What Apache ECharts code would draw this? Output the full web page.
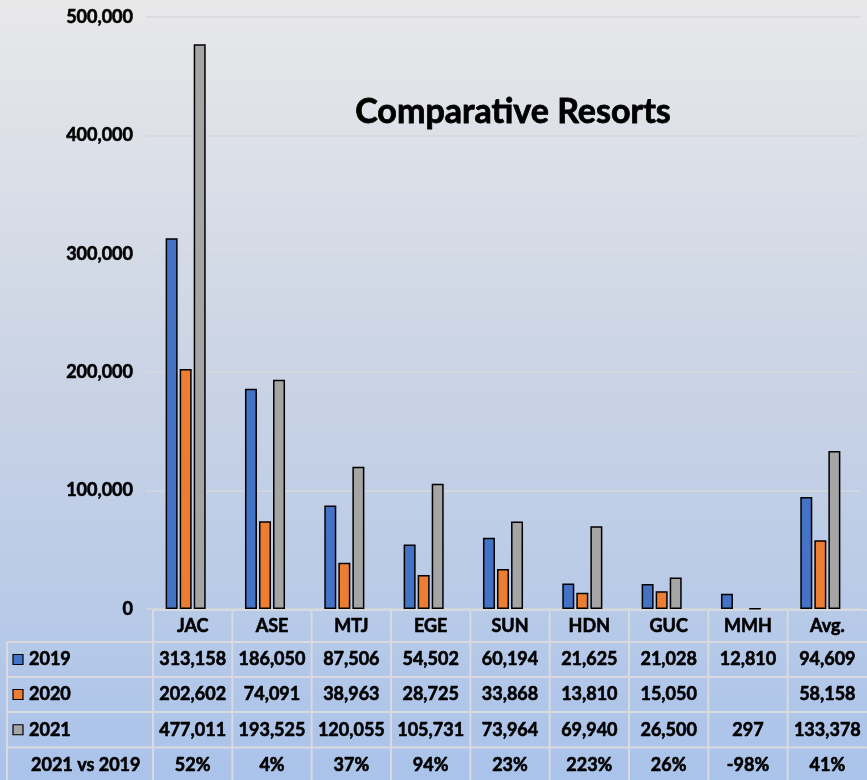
<!DOCTYPE html>
<html>
<head>
<meta charset="utf-8">
<script src="https://cdn.jsdelivr.net/npm/echarts@6/dist/echarts.min.js"></script>
<style>
  html, body { margin: 0; padding: 0; }
  #main { width: 867px; height: 780px; }
</style>
</head>
<body>
<div id="main"></div>
<script>
const categories = ['JAC', 'ASE', 'MTJ', 'EGE', 'SUN', 'HDN', 'GUC', 'MMH', 'Avg.']
const v2019 = [313158, 186050, 87506, 54502, 60194, 21625, 21028, 12810, 94609]
const v2020 = [202602, 74091, 38963, 28725, 33868, 13810, 15050, null, 58158]
const v2021 = [477011, 193525, 120055, 105731, 73964, 69940, 26500, 297, 133378]
const vsLabels = ['52%', '4%', '37%', '94%', '23%', '223%', '26%', '-98%', '41%']
const yMin = 0
const yMax = 500000
const yStep = 100000

const FONT = 'Lato, "Open Sans", sans-serif'
const colors = ['#4472c4', '#ed7d31', '#a5a5a5']
const lineColor = '#d8dade'
// thin outline to thicken Lato bold towards Calibri bold
const heavy = 0.6

// data table under the plot
const tblLeft = 153
const colW = (867 - tblLeft) / categories.length
const rowY = [610, 642, 677, 712, 747.5, 782]
const rows = [
  { name: '2019', color: colors[0], vals: v2019 },
  { name: '2020', color: colors[1], vals: v2020 },
  { name: '2021', color: colors[2], vals: v2021 },
  { name: '2021 vs 2019', color: null, vals: vsLabels }
]

function fmt(v) {
  if (v === null || v === undefined) return ''
  if (typeof v === 'string') return v
  return v.toLocaleString('en-US')
}

function cellText(x, y, text, align) {
  return {
    type: 'text', x: x, y: y,
    style: {
      text: text, font: 'bold 18px ' + FONT, fill: '#000',
      stroke: '#000', lineWidth: heavy,
      align: align, verticalAlign: 'middle'
    }
  }
}

const graphic = []
// horizontal lines
graphic.push({ type: 'line', shape: { x1: tblLeft, y1: rowY[0], x2: 867, y2: rowY[0] }, style: { stroke: lineColor, lineWidth: 2 } })
for (let r = 1; r < rowY.length - 1; r++) {
  graphic.push({ type: 'line', shape: { x1: 7, y1: rowY[r], x2: 867, y2: rowY[r] }, style: { stroke: lineColor, lineWidth: 2 } })
}
// vertical lines
graphic.push({ type: 'line', shape: { x1: 7, y1: rowY[1], x2: 7, y2: 780 }, style: { stroke: lineColor, lineWidth: 2 } })
for (let c = 0; c < categories.length; c++) {
  const x = tblLeft + c * colW
  graphic.push({ type: 'line', shape: { x1: x, y1: rowY[0], x2: x, y2: 780 }, style: { stroke: lineColor, lineWidth: 2 } })
}
// header row
categories.forEach((cat, c) => {
  graphic.push(cellText(tblLeft + (c + 0.5) * colW, (rowY[0] + rowY[1]) / 2, cat, 'center'))
})
// value rows
rows.forEach((row, r) => {
  const cy = (rowY[r + 1] + rowY[r + 2]) / 2
  if (row.color) {
    graphic.push({ type: 'rect', shape: { x: 13, y: cy - 5, width: 10, height: 10 }, style: { fill: row.color, stroke: '#000', lineWidth: 1.2 } })
  }
  graphic.push(cellText(row.color ? 29 : 31, cy, row.name, 'left'))
  row.vals.forEach((v, c) => {
    graphic.push(cellText(tblLeft + (c + 0.5) * colW, cy, fmt(v), 'center'))
  })
})

const chart = echarts.init(document.getElementById('main'))

chart.setOption({
  backgroundColor: {
    type: 'linear', x: 0, y: 0, x2: 0, y2: 1,
    colorStops: [
      { offset: 0, color: '#e8e8e9' },
      { offset: 0.5, color: '#c9d3e5' },
      { offset: 1, color: '#aac3ea' }
    ]
  },
  animation: false,
  title: {
    text: 'Comparative Resorts',
    left: 508, top: 90, textAlign: 'center',
    textStyle: {
      fontFamily: FONT, fontWeight: 'bold', fontSize: 34, color: '#000',
      textBorderColor: '#000', textBorderWidth: 0.8
    }
  },
  grid: { left: 146, right: 7, top: 17, bottom: 171 },
  xAxis: {
    type: 'category',
    data: categories,
    axisLine: { show: false },
    axisTick: { show: false },
    axisLabel: { show: false }
  },
  yAxis: {
    type: 'value',
    min: yMin, max: yMax, interval: yStep,
    axisLine: { show: false },
    axisTick: { show: false },
    splitLine: { lineStyle: { color: '#d4d7dc', width: 1.5 } },
    axisLabel: {
      margin: 13,
      fontFamily: FONT, fontWeight: 'bold', fontSize: 18, color: '#000',
      textBorderColor: '#000', textBorderWidth: heavy,
      formatter: v => v.toLocaleString('en-US')
    }
  },
  series: [
    { name: '2019', type: 'bar', data: v2019, barWidth: 12, barGap: '17%', itemStyle: { color: colors[0], borderColor: '#000', borderWidth: 1.5 } },
    { name: '2020', type: 'bar', data: v2020, barWidth: 12, barGap: '17%', itemStyle: { color: colors[1], borderColor: '#000', borderWidth: 1.5 } },
    { name: '2021', type: 'bar', data: v2021, barWidth: 12, barGap: '17%', itemStyle: { color: colors[2], borderColor: '#000', borderWidth: 1.5 } }
  ],
  graphic: graphic
})
</script>
</body>
</html>
